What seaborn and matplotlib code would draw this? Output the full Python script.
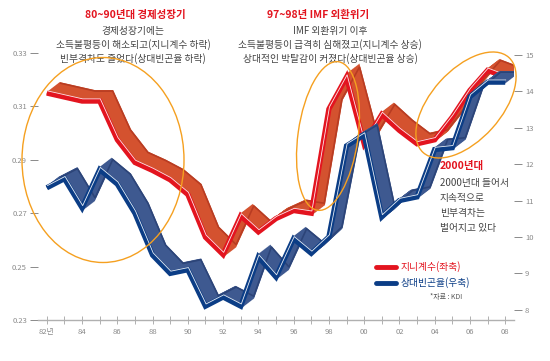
import numpy as np
import pandas as pd
import matplotlib
matplotlib.use("Agg")
import matplotlib.pyplot as plt
import matplotlib.transforms as mtransforms
from matplotlib.patches import Ellipse
from matplotlib.lines import Line2D
import seaborn as sns

sns.set_theme(style="white")
plt.rcParams['font.family'] = ['Noto Sans CJK KR', 'DejaVu Sans']

years = list(range(1982, 2009))
gini = [0.315, 0.3135, 0.312, 0.312, 0.2975, 0.289, 0.286, 0.2825, 0.277, 0.261,
        0.2545, 0.269, 0.263, 0.268, 0.271, 0.270, 0.309, 0.321, 0.296, 0.307,
        0.301, 0.296, 0.2975, 0.306, 0.316, 0.3235, 0.321]
poverty = [11.35, 11.6, 10.8, 11.85, 11.45, 10.65, 9.5, 9.0, 9.1, 8.1,
           8.35, 8.1, 9.45, 8.9, 9.95, 9.55, 10.0, 12.5, 12.8, 10.55,
           11.0, 11.1, 12.4, 12.45, 13.85, 14.25, 14.25]
left_ticks = [0.23, 0.25, 0.27, 0.29, 0.31, 0.33]
right_ticks = [8, 9, 10, 11, 12, 13, 14, 15]
xtick_years = list(range(1982, 2009, 2))
xtick_labels = ["82년", "84", "86", "88", "90", "92", "94", "96", "98", "00", "02", "04", "06", "08"]

df = pd.DataFrame({"year": years, "gini": gini, "poverty": poverty})

W, H = 550, 361
fig = plt.figure(figsize=(W / 100, H / 100), dpi=100)
ax = fig.add_axes([38 / W, 1 - 320 / H, (514 - 38) / W, (320 - 53) / H])
ax2 = ax.twinx()

tick_col = "#8a8a8a"


def ribbon(a, x, y, face, edge, front, z):
    n = 20
    for i in range(n + 1):
        f = i / n
        tr = a.transData + mtransforms.ScaledTranslation(0.13 * f, 0.10 * f, fig.dpi_scale_trans)
        a.plot(x, y, color=edge if i == n else face, lw=2.2 if i < n else 1.2,
               transform=tr, zorder=z, solid_joinstyle="miter", solid_capstyle="butt")
    sns.lineplot(x=x, y=y, ax=a, color=front, lw=3.8, zorder=z + 1,
                 solid_joinstyle="miter", solid_capstyle="butt")
    tr = a.transData + mtransforms.ScaledTranslation(0.006, 0.022, fig.dpi_scale_trans)
    a.plot(x, y, color="white", lw=0.6, alpha=0.9, transform=tr, zorder=z + 2)


ribbon(ax, df["year"], df["gini"], "#d4522f", "#b83c22", "#e3141f", 2)
ribbon(ax2, df["year"], df["poverty"], "#3e5990", "#2c4478", "#0b3d86", 2)
ax.set_zorder(1)
ax2.set_zorder(2)
ax.patch.set_visible(False)
ax2.patch.set_visible(False)

ax.set_xlim(1981.5, 2008.5)
ax.set_ylim(0.23, 0.33)
ax2.set_ylim(7.72, 15.05)
ax.set_yticks(left_ticks)
ax.set_yticklabels([f"{v:.2f}" for v in left_ticks])
ax2.set_yticks(right_ticks)
ax2.set_yticklabels([str(v) for v in right_ticks])
ax.set_xticks(years, minor=True)
ax.set_xticks(xtick_years)
ax.set_xticklabels(xtick_labels)
ax.set_xlabel("")
ax.set_ylabel("")
ax2.set_xlabel("")
ax2.set_ylabel("")

for a in (ax, ax2):
    for s in a.spines.values():
        s.set_visible(False)
ax.spines["bottom"].set_visible(True)
ax.spines["bottom"].set_color("#b0b0b0")
ax.spines["bottom"].set_linewidth(1.0)

ax.tick_params(axis="y", left=True, length=6, width=0.7, color=tick_col,
               labelsize=5.5, labelcolor=tick_col, pad=2)
ax2.tick_params(axis="y", right=True, length=6, width=0.7, color=tick_col,
                labelsize=5.5, labelcolor=tick_col, pad=2)
ax.tick_params(axis="x", which="both", bottom=True, direction="inout", length=6,
               width=0.7, color="#b0b0b0", labelsize=5.5, labelcolor=tick_col, pad=3)
ax.grid(False)
ax2.grid(False)

# annotations
red = "#e3141f"
gray = "#444444"


def px(x, y):
    return x / W, 1 - y / H


fig.text(*px(135, 15), "80~90년대 경제성장기", color=red, fontsize=7.5, fontweight="bold",
         ha="center", va="center")
for yy, t in [(31, "경제성장기에는"), (45, "소득불평등이 해소되고(지니계수 하락)"),
              (59, "빈부격차도 줄었다(상대빈곤율 하락)")]:
    fig.text(*px(133, yy), t, color=gray, fontsize=7, ha="center", va="center")

fig.text(*px(318, 15), "97~98년 IMF 외환위기", color=red, fontsize=7.5, fontweight="bold",
         ha="center", va="center")
for yy, t in [(31, "IMF 외환위기 이후"), (45, "소득불평등이 급격히 심해졌고(지니계수 상승)"),
              (59, "상대적인 박탈감이 커졌다(상대빈곤율 상승)")]:
    fig.text(*px(330, yy), t, color=gray, fontsize=7, ha="center", va="center")

fig.text(*px(440, 166), "2000년대", color=red, fontsize=7.5, fontweight="bold",
         ha="left", va="center")
for yy, t in [(183, "2000년대 들어서"), (198, "지속적으로"), (213, "빈부격차는"),
              (228, "벌어지고 있다")]:
    fig.text(*px(440, yy), t, color=gray, fontsize=7, ha="left", va="center")

# legend
fig.add_artist(Line2D([376 / W, 396 / W], [1 - 267 / H] * 2, color=red, lw=3.5))
fig.add_artist(Line2D([376 / W, 396 / W], [1 - 283 / H] * 2, color="#0b3d86", lw=3.5))
fig.text(*px(401, 267), "지니계수(좌축)", color=red, fontsize=7, ha="left", va="center")
fig.text(*px(401, 283), "상대빈곤율(우축)", color="#0b3d86", fontsize=7, ha="left", va="center")
fig.text(*px(430, 297), "*자료 : KDI", color="#555555", fontsize=5, ha="left", va="center")

# ellipses
orange = "#f5a020"
for cx, cy, w, h, ang in [(103, 160, 162, 205, 0), (328, 136, 60, 150, -8),
                          (466, 105, 128, 70, 48)]:
    e = Ellipse((cx / 100, (H - cy) / 100), w / 100, h / 100, angle=ang,
                transform=fig.dpi_scale_trans, fill=False, edgecolor=orange, lw=1.0,
                zorder=20)
    fig.add_artist(e)

fig.savefig("out.png", dpi=100)
